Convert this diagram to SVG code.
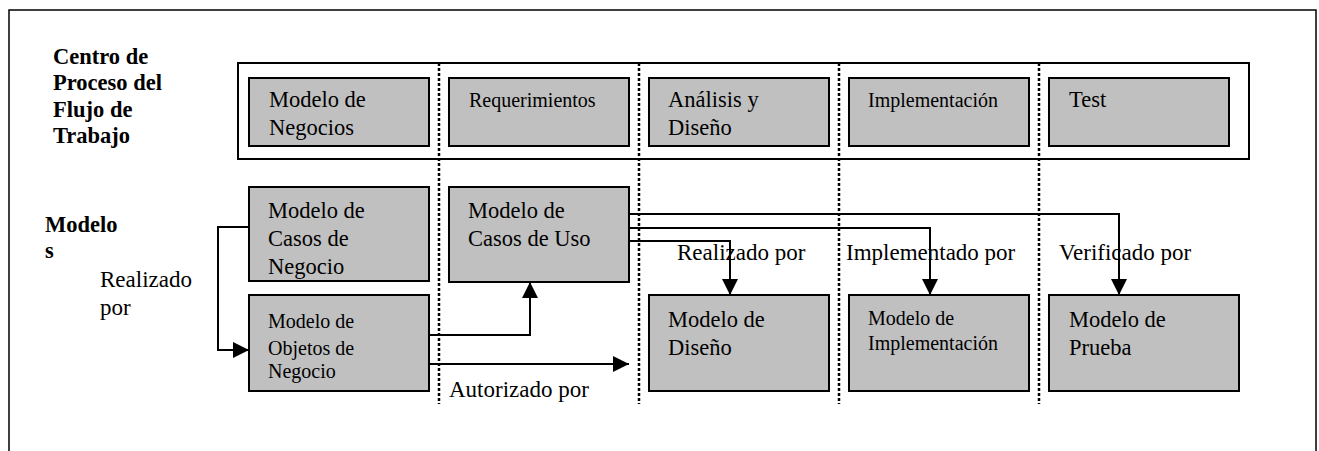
<svg xmlns="http://www.w3.org/2000/svg" width="1319" height="451" viewBox="0 0 1319 451">
<style>
text{font-family:"Liberation Serif","Times New Roman",serif;fill:#000}
.b{font-weight:bold;font-size:22.5px}
.t{font-size:22.5px}
.l{font-size:23px}
.s{font-size:20px}
.box{fill:#c0c0c0;stroke:#000;stroke-width:2}
.dot{stroke:#000;stroke-width:2.5;stroke-dasharray:3 2;fill:none}
.con{stroke:#000;stroke-width:2;fill:none}
</style>
<defs>
<marker id="ah" markerWidth="16" markerHeight="16" refX="16" refY="8" orient="auto" markerUnits="userSpaceOnUse">
<path d="M0,0 L16,8 L0,16 Z" fill="#000"/>
</marker>
</defs>
<rect x="9" y="10" width="1307" height="460" fill="#fff" stroke="#000" stroke-width="1.5"/>
<g id="labels">
<text class="b" x="53" y="64">Centro de</text>
<text class="b" x="53" y="90">Proceso del</text>
<text class="b" x="53" y="117">Flujo de</text>
<text class="b" x="53" y="143">Trabajo</text>
<text class="b" x="45" y="232">Modelo</text>
<text class="b" x="45" y="258">s</text>
</g>
<rect id="bar" x="238" y="63" width="1011" height="96" fill="none" stroke="#000" stroke-width="2"/>
<g id="separators">
<line class="dot" x1="439" y1="63" x2="439" y2="404"/>
<line class="dot" x1="639" y1="63" x2="639" y2="404"/>
<line class="dot" x1="839" y1="63" x2="839" y2="404"/>
<line class="dot" x1="1039" y1="63" x2="1039" y2="404"/>
</g>
<g id="n-modelo-negocios"><rect class="box" x="249" y="78" width="180" height="68"/><text class="t" x="269" y="107">Modelo de</text><text class="t" x="269" y="135">Negocios</text></g>
<g id="n-requerimientos"><rect class="box" x="449" y="78" width="180" height="68"/><text class="s" x="469" y="107">Requerimientos</text></g>
<g id="n-analisis"><rect class="box" x="649" y="78" width="180" height="68"/><text class="t" x="668" y="107">Análisis y</text><text class="t" x="668" y="135">Diseño</text></g>
<g id="n-implementacion"><rect class="box" x="849" y="78" width="180" height="68"/><text class="s" x="868" y="107">Implementación</text></g>
<g id="n-test"><rect class="box" x="1049" y="78" width="180" height="68"/><text class="t" x="1069" y="107">Test</text></g>
<g id="n-casos-negocio"><rect class="box" x="249" y="187" width="180" height="94"/><text class="t" x="268" y="218">Modelo de</text><text class="t" x="268" y="246">Casos de</text><text class="t" x="268" y="274">Negocio</text></g>
<g id="n-objetos-negocio"><rect class="box" x="249" y="295" width="180" height="96"/><text class="s" x="268" y="328">Modelo de</text><text class="s" x="268" y="355">Objetos de</text><text class="s" x="268" y="378">Negocio</text></g>
<g id="n-casos-uso"><rect class="box" x="449" y="187" width="180" height="95"/><text class="t" x="468" y="218">Modelo de</text><text class="t" x="468" y="246">Casos de Uso</text></g>
<g id="n-diseno"><rect class="box" x="649" y="295" width="180" height="96"/><text class="t" x="668" y="327">Modelo de</text><text class="t" x="668" y="355">Diseño</text></g>
<g id="n-modelo-implementacion"><rect class="box" x="849" y="295" width="180" height="96"/><text class="s" x="868" y="325">Modelo de</text><text class="s" x="868" y="350">Implementación</text></g>
<g id="n-prueba"><rect class="box" x="1049" y="295" width="190" height="96"/><text class="t" x="1069" y="327">Modelo de</text><text class="t" x="1069" y="355">Prueba</text></g>
<g id="connectors">
<polyline class="con" points="249,227 218,227 218,350 249,350" marker-end="url(#ah)"/>
<polyline class="con" points="429,335 530,335 530,282" marker-end="url(#ah)"/>
<polyline class="con" points="429,364 629,364" marker-end="url(#ah)"/>
<polyline class="con" points="629,214 1119,214 1119,295" marker-end="url(#ah)"/>
<polyline class="con" points="629,228 930,228 930,295" marker-end="url(#ah)"/>
<polyline class="con" points="629,241 730,241 730,295" marker-end="url(#ah)"/>
</g>
<g id="connector-labels">
<text class="l" x="100" y="287">Realizado</text>
<text class="l" x="100" y="315">por</text>
<text class="l" x="677" y="260">Realizado por</text>
<text class="l" x="846" y="260">Implementado por</text>
<text class="l" x="1059" y="260">Verificado por</text>
<text class="l" x="449" y="397">Autorizado por</text>
</g>
</svg>
